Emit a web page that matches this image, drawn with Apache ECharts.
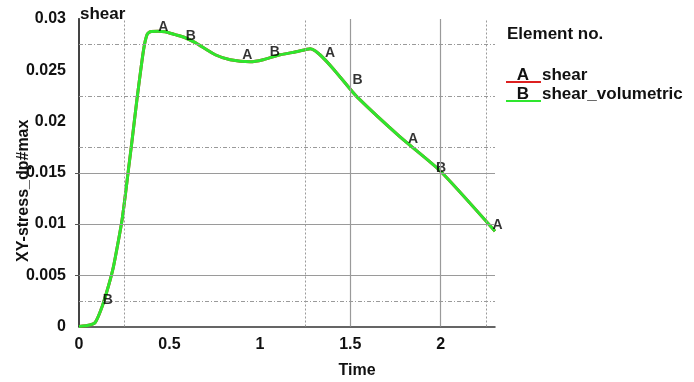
<!DOCTYPE html>
<html>
<head>
<meta charset="utf-8">
<script src="https://cdn.jsdelivr.net/npm/echarts@6/dist/echarts.min.js"></script>
<style>html,body{margin:0;padding:0;background:#fff;}#c{width:694px;height:382px;}</style>
</head>
<body>
<div id="c"></div>
<script>
// ---- data ----
const time = [0, 0.06, 0.09, 0.127, 0.162, 0.19, 0.215, 0.238, 0.256, 0.274, 0.293, 0.32, 0.357, 0.376, 0.394, 0.438, 0.477, 0.532, 0.587, 0.643, 0.753, 0.836, 0.946, 1.018, 1.112, 1.2, 1.278, 1.537, 1.775, 1.996, 2.3];
const shear = [0, 0.00015, 0.0004, 0.0019, 0.0039, 0.0058, 0.0081, 0.0104, 0.0128, 0.0154, 0.0181, 0.0221, 0.0270, 0.02847, 0.02876, 0.0288, 0.02876, 0.02847, 0.02817, 0.02769, 0.02651, 0.02603, 0.02583, 0.02603, 0.02651, 0.0268, 0.0271, 0.0224, 0.0185, 0.0152, 0.0093];
const shearVolumetric = shear.slice();
const seriesNames = ['shear', 'shear_volumetric'];
const seriesLetters = ['A', 'B'];
const seriesColors = ['#dd2020', '#2ee62e'];
const letterPosA = [[0.466, 0.02925], [0.930, 0.02646], [1.388, 0.02666], [1.847, 0.01831], [2.314, 0.00991]];
const letterPosB = [[0.159, 0.00259], [0.618, 0.02832], [1.082, 0.02681], [1.540, 0.02402], [2.002, 0.01548]];
const xTicks = [0, 0.5, 1, 1.5, 2];
const yTicks = [0, 0.005, 0.01, 0.015, 0.02, 0.025, 0.03];
const gridYSolid = [0.005, 0.01, 0.015];
const gridYDotted = [0.0025, 0.0175, 0.0225, 0.0275];
const gridXSolid = [1.5, 2];
const gridXDotted = [0.25, 1.25, 2.25];

const FONT = '"Liberation Sans", Arial, sans-serif';
const chart = echarts.init(document.getElementById('c'));

const gridLines = [].concat(
  gridYSolid.map(v => ({ yAxis: v, lineStyle: { type: 'solid', color: '#9a9a9a', width: 1.2 } })),
  gridYDotted.map(v => ({ yAxis: v, lineStyle: { type: [4, 2, 1, 2], color: '#9a9a9a', width: 1 } })),
  gridXSolid.map(v => ({ xAxis: v, lineStyle: { type: 'solid', color: '#9a9a9a', width: 1.2 } })),
  gridXDotted.map(v => ({ xAxis: v, lineStyle: { type: [2, 2], color: '#9a9a9a', width: 1 } }))
);

function pairs(xs, ys) { return xs.map((x, i) => [x, ys[i]]); }

const legendGraphics = [{
  type: 'text', x: 507, y: 34,
  style: { text: 'Element no.', font: 'bold 17px ' + FONT, fill: '#111', verticalAlign: 'middle' }
}];
seriesNames.forEach((n, i) => {
  const cy = 75 + i * 19;
  legendGraphics.push({ type: 'line', shape: { x1: 506, y1: cy + 7, x2: 541, y2: cy + 7 }, style: { stroke: seriesColors[i], lineWidth: 2 } });
  legendGraphics.push({ type: 'text', x: 523, y: cy, style: { text: seriesLetters[i], font: 'bold 17px ' + FONT, fill: '#111', align: 'center', verticalAlign: 'middle' } });
  legendGraphics.push({ type: 'text', x: 542, y: cy, style: { text: n, font: 'bold 17px ' + FONT, fill: '#111', verticalAlign: 'middle' } });
});

chart.setOption({
  animation: false,
  backgroundColor: '#fff',
  title: { text: 'shear', left: 75, top: 1, textStyle: { fontFamily: FONT, fontWeight: 'bold', fontSize: 17, color: '#111' } },
  grid: { left: 79, right: 199, top: 19, bottom: 55.5, containLabel: false, outerBoundsMode: 'none' },
  xAxis: [{
    type: 'value', min: 0, max: 2.3, interval: 0.5,
    name: 'Time', nameLocation: 'middle', nameGap: 36, nameMoveOverlap: false,
    nameTextStyle: { fontFamily: FONT, fontWeight: 'bold', fontSize: 16, color: '#111', padding: [0, 0, 0, 140] },
    axisLine: { show: false }, axisTick: { show: false }, splitLine: { show: false },
    axisLabel: { showMaxLabel: false, margin: 10, fontFamily: FONT, fontWeight: 'bold', fontSize: 16, color: '#111',
      formatter: v => (xTicks.indexOf(v) >= 0 ? String(v) : '') }
  }, {
    type: 'value', min: 0, max: 2.3, position: 'top',
    axisLine: { show: true, lineStyle: { color: '#333', width: 1.5 } },
    axisTick: { show: false }, axisLabel: { show: false }, splitLine: { show: false }
  }],
  yAxis: [{
    type: 'value', min: 0, max: 0.03, interval: 0.005,
    name: 'XY-stress_dp#max', nameLocation: 'middle', nameGap: 47, nameMoveOverlap: false,
    nameTextStyle: { fontFamily: FONT, fontWeight: 'bold', fontSize: 16, color: '#111', padding: [0, 36, 0, 0] },
    axisLine: { show: true, lineStyle: { color: '#111', width: 1.5 } },
    axisTick: { show: true, length: 4, lineStyle: { color: '#555' }, customValues: gridYSolid },
    splitLine: { show: false },
    axisLabel: { margin: 13, fontFamily: FONT, fontWeight: 'bold', fontSize: 16, color: '#111',
      customValues: yTicks, formatter: v => String(v) }
  }, {
    type: 'value', min: 0, max: 0.03, position: 'right',
    axisLine: { show: true, lineStyle: { color: '#444', width: 2 } },
    axisTick: { show: false }, axisLabel: { show: false }, splitLine: { show: false }
  }],
  graphic: legendGraphics,
  series: [{
    type: 'line', name: 'grid', data: [], z: 1, silent: true,
    markLine: { silent: true, symbol: 'none', precision: 6, label: { show: false }, animation: false, data: gridLines }
  }, {
    type: 'line', name: seriesNames[0], data: pairs(time, shear), z: 2,
    showSymbol: false, smooth: 0.2, lineStyle: { color: seriesColors[0], width: 3 }, itemStyle: { color: seriesColors[0] }
  }, {
    type: 'line', name: seriesNames[1], data: pairs(time, shearVolumetric), z: 3,
    showSymbol: false, smooth: 0.2, lineStyle: { color: seriesColors[1], width: 3 }, itemStyle: { color: seriesColors[1] }
  }, {
    type: 'scatter', name: 'A marks', data: letterPosA, z: 4, clip: false, symbolSize: 1,
    itemStyle: { color: 'transparent' },
    label: { show: true, position: 'inside', formatter: seriesLetters[0], fontFamily: FONT, fontWeight: 'bold', fontSize: 14, color: '#000' }
  }, {
    type: 'scatter', name: 'B marks', data: letterPosB, z: 4, clip: false, symbolSize: 1,
    itemStyle: { color: 'transparent' },
    label: { show: true, position: 'inside', formatter: seriesLetters[1], fontFamily: FONT, fontWeight: 'bold', fontSize: 14, color: '#000' }
  }]
});
</script>
</body>
</html>
